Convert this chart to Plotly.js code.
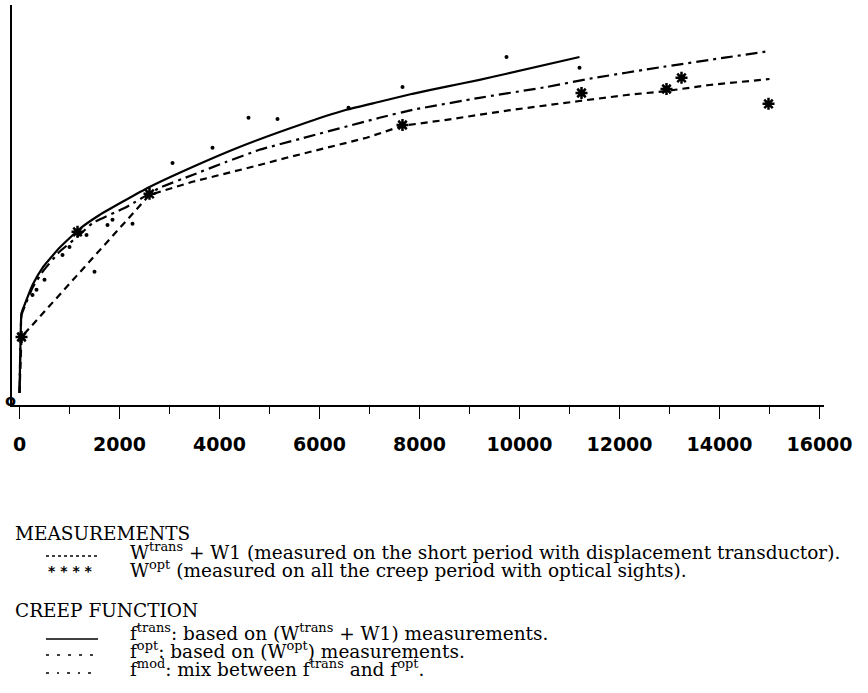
<!DOCTYPE html>
<html>
<head>
<meta charset="utf-8">
<script src="https://cdn.plot.ly/plotly-3.0.1.min.js"></script>
<style>
html,body{margin:0;padding:0;background:#fff;}
#chart{width:868px;height:693px;}
</style>
</head>
<body>
<div id="chart"></div>
<script>
// ---- data (x: time, y: deformation in arbitrary units) ----
var transX = [0, 20, 40, 100, 260, 460, 800, 1200, 1600, 2060, 2600, 3460, 4400, 5600, 6540, 7200, 7860, 8540, 9200, 9740, 11200];
var transY = [3, 16, 23, 25, 30, 34.3, 39.3, 44, 47.5, 50.8, 54.5, 59.5, 64.5, 70, 73.8, 75.8, 77.8, 79.6, 81.3, 82.8, 87];

var optX = [0, 40, 2600, 3460, 4800, 5340, 6940, 7660, 8540, 9860, 11200, 12140, 12940, 13800, 15000];
var optY = [3, 17, 52.5, 55.8, 60, 61.8, 66.8, 69.8, 71.3, 73.8, 76, 77.5, 78.5, 80, 81.5];

var modX = [0, 20, 40, 100, 260, 460, 800, 1200, 1460, 2140, 2800, 3460, 4140, 4800, 5600, 7200, 7860, 9200, 10540, 11460, 12800, 14140, 15000];
var modY = [3, 16.3, 22.5, 24.5, 29.3, 33.3, 38.3, 42.5, 45.5, 49.5, 54.3, 57.5, 60.8, 63.8, 66.5, 71.8, 73.8, 76.8, 79.5, 81.7, 84.4, 86.9, 88.5];

var wTransX = [260, 340, 500, 860, 1000, 1340, 1500, 1760, 1860, 2260, 3060, 3860, 4580, 5160, 6580, 7660, 9740, 11200];
var wTransY = [27.5, 28.8, 31.3, 37.5, 39.5, 42.5, 33.3, 45, 46.3, 45.3, 60.5, 64.3, 71.8, 71.5, 74.3, 79.5, 87, 84.3];

var wOptX = [40, 1160, 2600, 7660, 11240, 12940, 13240, 14980];
var wOptY = [17, 43.3, 52.8, 70, 78, 79, 81.8, 75.3];

var xTicks = [0, 2000, 4000, 6000, 8000, 10000, 12000, 14000, 16000];

// ---- layout helpers ----
var L = 12, T = 5, W = 812, H = 400;
function px(x){ return (x - L) / W; }
function py(y){ return (T + H - y) / H; }

var serif = 'DejaVu Serif, Liberation Serif, serif';
var fs = 18.5;

var traces = [
  {x: transX, y: transY, mode: 'lines', line: {color: '#000', width: 2.2, shape: 'spline', smoothing: 0.4}, hoverinfo: 'skip'},
  {x: optX, y: optY, mode: 'lines', line: {color: '#000', width: 2.2, dash: '7px,5px'}, hoverinfo: 'skip'},
  {x: modX, y: modY, mode: 'lines', line: {color: '#000', width: 2.2, dash: '12px,5px,3px,5px', shape: 'spline', smoothing: 0.3}, hoverinfo: 'skip'},
  {x: wTransX, y: wTransY, mode: 'markers', marker: {color: '#000', size: 4, symbol: 'circle'}, hoverinfo: 'skip'},
  {x: wOptX, y: wOptY, mode: 'markers', marker: {color: '#000', size: 10, symbol: 'asterisk', line: {color: '#000', width: 2.5}}, hoverinfo: 'skip'}
];

var ann = [];
function txt(x, y, t, size, extra){
  var a = {xref: 'paper', yref: 'paper', x: px(x), y: py(y), xanchor: 'left', yanchor: 'middle',
           text: t, showarrow: false, font: {family: serif, size: size || fs, color: '#000'}};
  if (extra) for (var k in extra) a[k] = extra[k];
  ann.push(a);
}
var rowM = 533, rowWt = 551, rowWo = 569, rowC = 610, rowFt = 632, rowFo = 650, rowFm = 668;
txt(13, rowM, 'MEASUREMENTS');
txt(128, rowWt, 'W<sup>trans</sup> + W1 (measured on the short period with displacement transductor).');
txt(46, rowWo + 2, '* * * *', 14, {font: {family: 'DejaVu Sans, sans-serif', size: 14, color: '#000', weight: 'bold'}});
txt(128, rowWo, 'W<sup>opt</sup> (measured on all the creep period with optical sights).');
txt(13, rowC, 'CREEP FUNCTION');
txt(128, rowFt, 'f<sup>trans</sup>: based on (W<sup>trans</sup> + W1) measurements.');
txt(128, rowFo, 'f<sup>opt</sup>: based on (W<sup>opt</sup>) measurements.');
txt(128, rowFm, 'f<sup>mod</sup>: mix between f<sup>trans</sup> and f<sup>opt</sup>.');
ann.push({xref: 'paper', yref: 'paper', x: px(10), y: py(400), text: 'o', showarrow: false,
          font: {family: 'DejaVu Sans, sans-serif', size: 16, color: '#000', weight: 'bold'}, xanchor: 'center', yanchor: 'middle'});

var shapes = [
  {type: 'line', xref: 'paper', yref: 'paper', x0: px(46), x1: px(98), y0: py(rowWt + 5), y1: py(rowWt + 5), line: {color: '#000', width: 1.5, dash: 'dot'}},
  {type: 'line', xref: 'paper', yref: 'paper', x0: px(46), x1: px(98), y0: py(rowFt + 7), y1: py(rowFt + 7), line: {color: '#000', width: 1.6}},
  {type: 'line', xref: 'paper', yref: 'paper', x0: px(46), x1: px(98), y0: py(rowFo + 5), y1: py(rowFo + 5), line: {color: '#000', width: 1.6, dash: '3px,8px'}},
  {type: 'line', xref: 'paper', yref: 'paper', x0: px(46), x1: px(98), y0: py(rowFm + 5), y1: py(rowFm + 5), line: {color: '#000', width: 1.6, dash: '3px,8px,2px,8px'}}
];

var layout = {
  width: 868, height: 693,
  margin: {l: L, r: 868 - L - W, t: T, b: 693 - T - H, pad: 0},
  paper_bgcolor: '#fff', plot_bgcolor: '#fff',
  showlegend: false,
  xaxis: {
    range: [-150, 16090], showgrid: false, zeroline: false,
    showline: true, linecolor: '#000', linewidth: 1.5,
    ticks: 'outside', ticklen: 12, tickwidth: 1.5, tickcolor: '#000',
    tickmode: 'array', tickvals: xTicks, ticktext: xTicks.map(String),
    minor: {dtick: 1000, ticks: 'outside', ticklen: 7, tickwidth: 1.5, tickcolor: '#000'},
    tickfont: {family: 'DejaVu Sans, sans-serif', size: 19, color: '#000', weight: 'bold'},
    ticklabelstandoff: 10
  },
  yaxis: {
    range: [0, 100], showgrid: false, zeroline: false,
    showline: true, linecolor: '#000', linewidth: 2.2,
    showticklabels: false, ticks: ''
  },
  annotations: ann,
  shapes: shapes
};

Plotly.newPlot('chart', traces, layout, {staticPlot: true, displayModeBar: false});
</script>
</body>
</html>
